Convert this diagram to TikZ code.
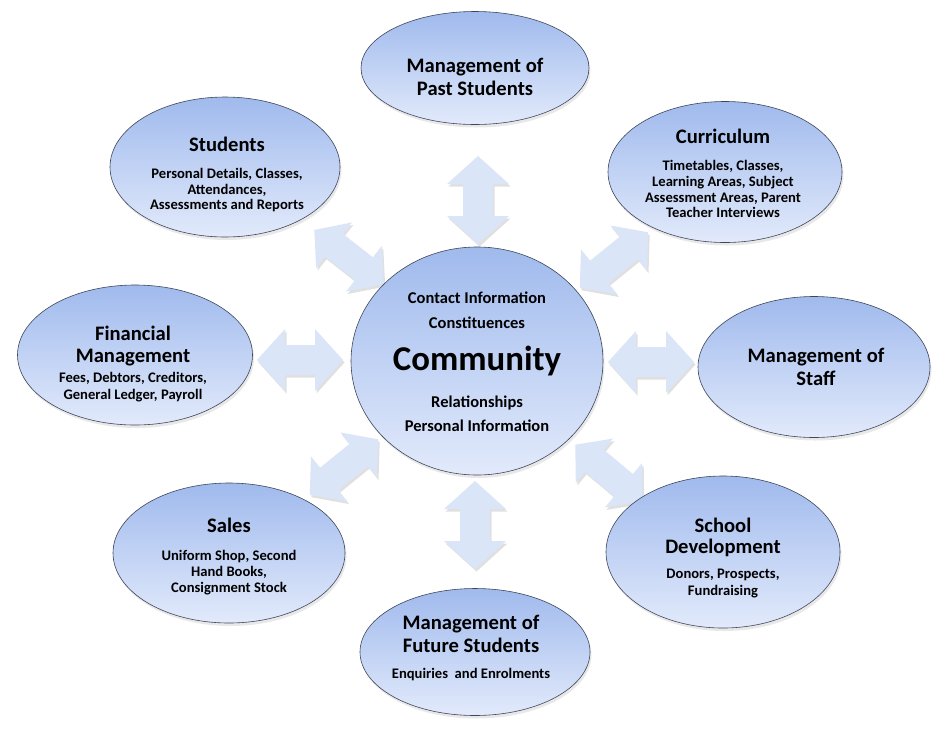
\documentclass[tikz,border=0pt]{standalone}
\usepackage{fontspec}
\setmainfont{Carlito}
\usetikzlibrary{shapes.geometric,shadows}
\definecolor{bubtop}{RGB}{160,186,237}
\definecolor{bubbot}{RGB}{226,234,251}
\definecolor{bubline}{RGB}{62,70,90}
\definecolor{arrfill}{RGB}{219,229,248}
\newcommand\dblarr[7]{%
  % #1 cx, #2 cy, #3 angle, #4 half length, #5 half width, #6 half shaft, #7 head length
  \begin{scope}[shift={(#1+1.5,#2+2.5)},rotate=#3]
    \fill[black,opacity=0.12] (-#4,0) -- (-#4+#7,#5) -- (-#4+#7,#6) -- (#4-#7,#6) -- (#4-#7,#5) -- (#4,0)
      -- (#4-#7,-#5) -- (#4-#7,-#6) -- (-#4+#7,-#6) -- (-#4+#7,-#5) -- cycle;
  \end{scope}
  \begin{scope}[shift={(#1,#2)},rotate=#3]
    \fill[arrfill] (-#4,0) -- (-#4+#7,#5) -- (-#4+#7,#6) -- (#4-#7,#6) -- (#4-#7,#5) -- (#4,0)
      -- (#4-#7,-#5) -- (#4-#7,-#6) -- (-#4+#7,-#6) -- (-#4+#7,-#5) -- cycle;
  \end{scope}}
\tikzset{
  bub/.style={ellipse, draw=bubline, line width=0.6pt, top color=bubtop, bottom color=bubbot,
    inner sep=0pt, drop shadow={opacity=0.18, shadow xshift=1.5pt, shadow yshift=-3pt}},
  ttl/.style={font=\bfseries\fontsize{20.6}{22}\selectfont, anchor=base, inner sep=0pt},
  sub/.style={font=\bfseries\fontsize{14.6}{16}\selectfont, anchor=base, inner sep=0pt},
  ctr/.style={font=\bfseries\fontsize{16.5}{18}\selectfont, anchor=base, inner sep=0pt},
  big/.style={font=\bfseries\fontsize{34.8}{38}\selectfont, anchor=base, inner sep=0pt},
}
\begin{document}
\begin{tikzpicture}[x=1pt,y=-1pt]
\useasboundingbox[fill=white] (0,0) rectangle (950,729);

% arrows
\dblarr{478}{200}{90}{44}{31}{15}{28}
\dblarr{475}{525}{90}{44}{31}{15}{28}
\dblarr{300}{360}{0}{43}{31}{15}{28}
\dblarr{651}{362}{0}{43}{31}{15}{28}
\dblarr{349}{257}{-38}{44}{29}{14.5}{25}
\dblarr{614}{260}{39}{44}{29}{14.5}{25}
\dblarr{344}{467}{39}{44}{29}{14.5}{25}
\dblarr{609}{473}{-40}{44}{29}{14.5}{25}

% bubbles
\node[bub, minimum width=228pt, minimum height=113pt] (past) at (475,68) {};
\node[bub, minimum width=230pt, minimum height=140pt] (stud) at (225,167) {};
\node[bub, minimum width=234pt, minimum height=141pt] (curr) at (725,172) {};
\node[bub, minimum width=235pt, minimum height=140pt] (fin) at (135,355) {};
\node[bub, minimum width=232pt, minimum height=141pt] (staff) at (814,367) {};
\node[bub, minimum width=232pt, minimum height=140pt] (sales) at (229,553) {};
\node[bub, minimum width=234pt, minimum height=152pt] (dev) at (723,552) {};
\node[bub, minimum width=230pt, minimum height=127pt] (fut) at (475,652) {};
\node[bub, minimum width=252pt, minimum height=228pt] (comm) at (477,361) {};

% texts
\node[ttl] (pastA) at (475,72) {Management of};
\node[ttl] (pastB) at (475,95) {Past Students};

\node[ttl] (studA) at (227,151) {Students};
\node[sub] (studB) at (227,178) {Personal Details, Classes,};
\node[sub] (studC) at (227,194) {Attendances,};
\node[sub] (studD) at (227,209) {Assessments and Reports};

\node[ttl] (currA) at (723,143) {Curriculum};
\node[sub] (currB) at (723,170) {Timetables, Classes,};
\node[sub] (currC) at (723,186) {Learning Areas, Subject};
\node[sub] (currD) at (723,202) {Assessment Areas, Parent};
\node[sub] (currE) at (723,217) {Teacher Interviews};

\node[ttl] (finA) at (133,340) {Financial};
\node[ttl] (finB) at (133,362) {Management};
\node[sub] (finC) at (133,382) {Fees, Debtors, Creditors,};
\node[sub] (finD) at (133,399) {General Ledger, Payroll};

\node[ttl] (staffA) at (816,362) {Management of};
\node[ttl] (staffB) at (816,385) {Staff};

\node[ttl] (salesA) at (229,532) {Sales};
\node[sub] (salesB) at (229,560) {Uniform Shop, Second};
\node[sub] (salesC) at (229,576) {Hand Books,};
\node[sub] (salesD) at (229,592) {Consignment Stock};

\node[ttl] (devA) at (723,532) {School};
\node[ttl] (devB) at (723,553) {Development};
\node[sub] (devC) at (723,578) {Donors, Prospects,};
\node[sub] (devD) at (723,595) {Fundraising};

\node[ttl] (futA) at (471,629) {Management of};
\node[ttl] (futB) at (471,652) {Future Students};
\node[sub] (futC) at (471,678) {Enquiries\ \ and Enrolments};

\node[ctr] (commA) at (477,303) {Contact Information};
\node[ctr] (commB) at (477,328) {Constituences};
\node[big] (commC) at (477,370) {Community};
\node[ctr] (commD) at (477,407) {Relationships};
\node[ctr] (commE) at (477,431) {Personal Information};
\end{tikzpicture}
\end{document}
